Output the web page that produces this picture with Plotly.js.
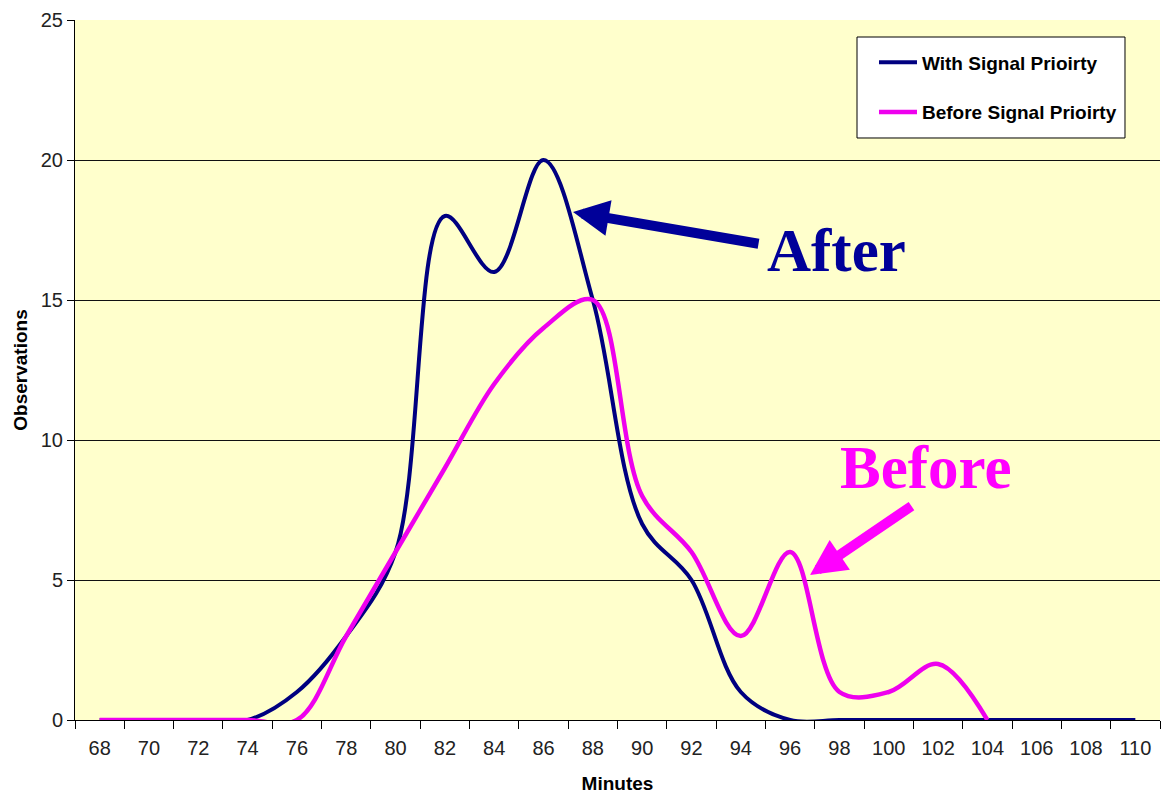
<!DOCTYPE html>
<html>
<head>
<meta charset="utf-8">
<script src="https://cdn.plot.ly/plotly-3.0.1.min.js"></script>
<style>
html,body{margin:0;padding:0;background:#fff;}
#chart{width:1161px;height:796px;}
</style>
</head>
<body>
<div id="chart"></div>
<script>
// Categories (minutes)
const minutes = ['68','70','72','74','76','78','80','82','84','86','88','90','92','94','96','98','100','102','104','106','108','110'];
// Observations with signal priority
const withPriority = [0,0,0,0,1,3,6,18,16,20,15,7,5,1,0,0,0,0,0,0,0,0];
// Observations before signal priority
const beforePriority = [0,0,0,0,0,3,6,9,12,14,15,8,6,3,6,1,1,2,0,null,null,null];
const seriesNames = ['With Signal Prioirty','Before Signal Prioirty'];

const sans = '"Liberation Sans", Arial, sans-serif';
const serif = '"Liberation Serif", "Times New Roman", serif';

const traces = [
  {
    x: minutes, y: withPriority, name: seriesNames[0], type: 'scatter', mode: 'lines',
    line: {color: '#000080', width: 4, shape: 'spline', smoothing: 1},
    legendgroup: 'a', connectgaps: false
  },
  {
    x: minutes, y: beforePriority, name: seriesNames[1], type: 'scatter', mode: 'lines',
    line: {color: '#EE00EE', width: 4.5, shape: 'spline', smoothing: 1},
    legendgroup: 'b', connectgaps: false
  }
];

const layout = {
  width: 1161, height: 796,
  margin: {l: 75, r: 1, t: 20, b: 76},
  paper_bgcolor: '#ffffff',
  plot_bgcolor: '#FFFFCC',
  showlegend: true,
  legend: {
    x: 0.7364, y: 0.9664, xanchor: 'left', yanchor: 'top',
    bgcolor: 'rgba(0,0,0,0)', borderwidth: 0,
    font: {family: sans, size: 19, color: '#000000', weight: 'bold'},
    traceorder: 'grouped', tracegroupgap: 22, itemwidth: 38
  },
  shapes: [
    {type: 'rect', xref: 'paper', yref: 'paper', x0: 0.72074, x1: 0.96774, y0: 0.83143, y1: 0.97571,
     fillcolor: '#ffffff', line: {color: '#000000', width: 1}, layer: 'above'}
  ],
  xaxis: {
    type: 'category', range: [-0.5, 21.5], tickson: 'boundaries',
    ticks: 'outside', ticklen: 8, tickcolor: '#000', tickwidth: 1,
    showline: true, linecolor: '#000', linewidth: 1, showgrid: false, zeroline: false,
    tickfont: {family: sans, size: 20, color: '#222'}, ticklabelstandoff: 10,
    title: {text: 'Minutes', font: {family: sans, size: 19, color: '#000', weight: 'bold'}, standoff: 18},
    fixedrange: true
  },
  yaxis: {
    range: [0, 25], dtick: 5, tick0: 0,
    ticks: 'outside', ticklen: 7, tickcolor: '#000', tickwidth: 1,
    showline: true, linecolor: '#000', linewidth: 1,
    showgrid: true, gridcolor: '#111', gridwidth: 1, zeroline: false,
    tickfont: {family: sans, size: 20, color: '#222'},
    title: {text: 'Observations', font: {family: sans, size: 19, color: '#000', weight: 'bold'}, standoff: 8},
    fixedrange: true
  },
  annotations: [
    {xref: 'paper', yref: 'paper', x: 0.459, y: 0.7257, ax: 187, ay: 32, axref: 'pixel', ayref: 'pixel',
     text: '', showarrow: true, arrowhead: 2, arrowsize: 0.72, arrowwidth: 10, arrowcolor: '#000099', standoff: 0},
    {xref: 'paper', yref: 'paper', x: 0.7014, y: 0.67, xanchor: 'center', yanchor: 'middle',
     text: '<b>After</b>', showarrow: false, font: {family: serif, size: 61, color: '#000099'}},
    {xref: 'paper', yref: 'paper', x: 0.6774, y: 0.2071, ax: 103, ay: -70, axref: 'pixel', ayref: 'pixel',
     text: '', showarrow: true, arrowhead: 2, arrowsize: 0.72, arrowwidth: 10, arrowcolor: '#FF00FF', standoff: 0},
    {xref: 'paper', yref: 'paper', x: 0.7843, y: 0.3614, xanchor: 'center', yanchor: 'middle',
     text: '<b>Before</b>', showarrow: false, font: {family: serif, size: 61, color: '#FF00FF'}}
  ]
};

Plotly.newPlot('chart', traces, layout, {displayModeBar: false, staticPlot: true});
</script>
</body>
</html>
